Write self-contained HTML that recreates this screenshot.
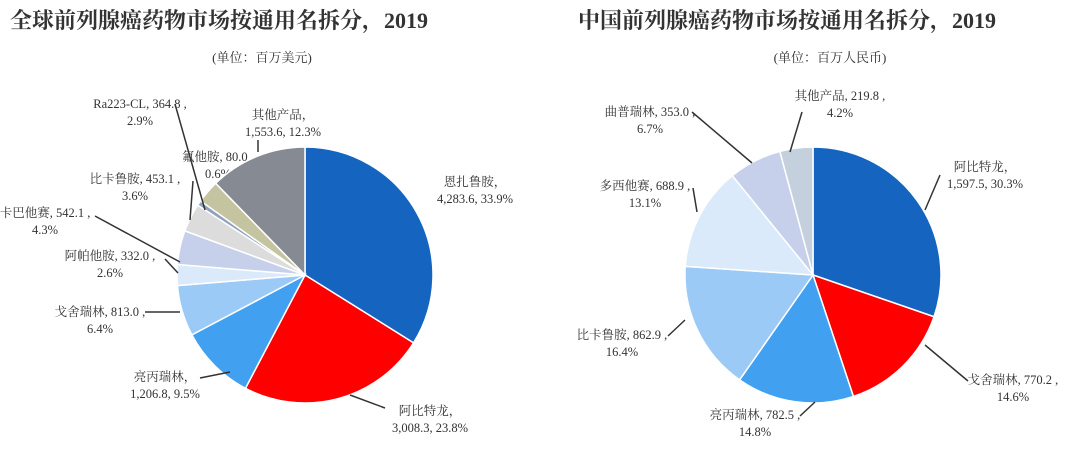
<!DOCTYPE html>
<html><head><meta charset="utf-8"><style>
body{margin:0;width:1080px;height:448px;background:#fff;overflow:hidden;font-family:"Liberation Serif","Noto Serif CJK SC",serif;}
svg text{font-family:"Liberation Serif","Noto Serif CJK SC",serif;fill:#333;}
</style></head><body>
<svg id="c" width="1080" height="448">
<text x="10" y="28" font-size="22" font-weight="bold" fill="#111">全球前列腺癌药物市场按通用名拆分，2019</text>
<text x="262" y="62" font-size="13" text-anchor="middle">(单位：百万美元)</text>
<text x="578" y="28" font-size="22" font-weight="bold" fill="#111">中国前列腺癌药物市场按通用名拆分，2019</text>
<text x="830" y="62" font-size="13" text-anchor="middle">(单位：百万人民币)</text>
</svg>
<script>
const leftNames=["恩扎鲁胺","阿比特龙","亮丙瑞林","戈舍瑞林","阿帕他胺","卡巴他赛","比卡鲁胺","氟他胺","Ra223-CL","其他产品"];
const leftValues=[4283.6,3008.3,1206.8,813.0,332.0,542.1,453.1,80.0,364.8,1553.6];
const leftPct=["33.9%","23.8%","9.5%","6.4%","2.6%","4.3%","3.6%","0.6%","2.9%","12.3%"];
const leftColors=["#1565c0","#ff0000","#42a0f0","#9ccaf6","#dbeafb","#c6d0ea","#dcdcdc","#8ea2be","#c4c4a0","#868a93"];
const rightNames=["阿比特龙","戈舍瑞林","亮丙瑞林","比卡鲁胺","多西他赛","曲普瑞林","其他产品"];
const rightValues=[1597.5,770.2,782.5,862.9,688.9,353.0,219.8];
const rightPct=["30.3%","14.6%","14.8%","16.4%","13.1%","6.7%","4.2%"];
const rightColors=["#1565c0","#ff0000","#42a0f0","#9ccaf6","#dbeafb","#c6d0ea","#c5d0de"];
// label layout: [x, y of line1, line-break mode (0: two lines name+value / pct), leader end x,y, elbow x,y]
const leftLayout=[[475,186,1,null],[430,415,1,[385,408,350,395]],[165,381,1,[200,378,230,372]],[100,316,0,[145,312,180,312]],[110,260,0,[165,259,178,273]],[45,217,0,[95,216,180,262]],[135,183,0,[193,181,190,220]],[218,161,0,null],[140,108,0,[175,104,205,210]],[283,119,1,[258,140,258,152]]];
const rightLayout=[[985,171,1,[940,175,925,210]],[1013,384,0,[968,381,925,345]],[755,419,0,[800,416,815,402]],[622,339,0,[668,336,685,320]],[645,190,0,[693,188,697,212]],[650,116,0,[692,112,752,163]],[840,100,0,[802,112,790,152]]];
const NS="http://www.w3.org/2000/svg";
const svg=document.getElementById('c');
function fmt(v){return v.toLocaleString('en-US',{minimumFractionDigits:1,maximumFractionDigits:1});}
function pie(cx,cy,r,names,vals,pcts,cols,layout,prefix){
  const tot=vals.reduce((a,b)=>a+b,0);let a=-Math.PI/2;
  vals.forEach((v,i)=>{
    const a2=a+v/tot*2*Math.PI;
    const p=document.createElementNS(NS,'path');
    const x1=cx+r*Math.cos(a),y1=cy+r*Math.sin(a),x2=cx+r*Math.cos(a2),y2=cy+r*Math.sin(a2);
    p.setAttribute('d',`M${cx},${cy}L${x1},${y1}A${r},${r} 0 ${a2-a>Math.PI?1:0} 1 ${x2},${y2}Z`);
    p.setAttribute('fill',cols[i]);p.setAttribute('stroke','#fff');p.setAttribute('stroke-width','1.5');
    
    
    svg.appendChild(p);
    const L=layout[i];
    if(L[3]){const ln=document.createElementNS(NS,'polyline');
      ln.setAttribute('points',`${L[3][0]},${L[3][1]} ${L[3][2]},${L[3][3]}`);
      ln.setAttribute('fill','none');ln.setAttribute('stroke','#333');ln.setAttribute('stroke-width','1.5');
      
      
      svg.appendChild(ln);}
    const t=document.createElementNS(NS,'text');
    t.setAttribute('x',L[0]);t.setAttribute('y',L[1]);t.setAttribute('font-size','12.5');t.setAttribute('text-anchor','middle');
    
    
    const s1=document.createElementNS(NS,'tspan');const s2=document.createElementNS(NS,'tspan');
    if(L[2]){s1.textContent=names[i]+'，';s2.textContent=fmt(vals[i])+', '+pcts[i];}
    else{s1.textContent=names[i]+', '+fmt(vals[i])+' ,';s2.textContent=pcts[i];}
    s1.setAttribute('x',L[0]);s2.setAttribute('x',L[0]);s2.setAttribute('dy','17');
    t.appendChild(s1);t.appendChild(s2);svg.appendChild(t);
    a=a2;
  });
}
pie(305,275,128,leftNames,leftValues,leftPct,leftColors,leftLayout,'left');
pie(813,275,128,rightNames,rightValues,rightPct,rightColors,rightLayout,'right');
</script>
</body></html>
